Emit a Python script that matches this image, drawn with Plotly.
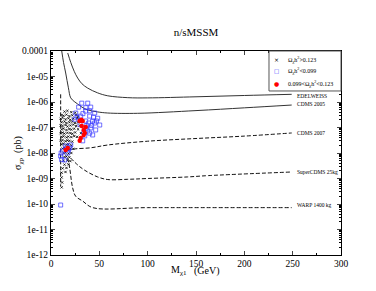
import math
import plotly.graph_objects as go

# ---------------- data ----------------
title_text = "n/sMSSM"
ytick_vals = [1e-12, 1e-11, 1e-10, 1e-9, 1e-8, 1e-7, 1e-6, 1e-5, 1e-4]
ytick_text = ["1e-12", "1e-11", "1e-10", "1e-09", "1e-08", "1e-07", "1e-06", "1e-05", "0.0001"]
xtick_vals = [0, 50, 100, 150, 200, 250, 300]

# exclusion / sensitivity curves (mass GeV, sigma pb)
edelweiss_m = [17.3, 20.5, 24.0, 27.6, 32.0, 38.0, 48.0, 58.7, 79.4, 100.0, 150.0, 200.0, 249.0]
edelweiss_s = [8.3e-5, 3.5e-5, 1.6e-5, 8.7e-6, 5.2e-6, 3.5e-6, 2.3e-6, 1.75e-6, 1.48e-6, 1.45e-6, 1.6e-6, 1.8e-6, 2.0e-6]

cdms05_m = [11.1, 13.0, 15.2, 18.0, 20.4, 24.0, 27.6, 32.0, 38.0, 48.0, 58.7, 89.7, 150.0, 200.0, 249.0]
cdms05_s = [1e-4, 3.5e-5, 1.37e-5, 3.6e-6, 1.45e-6, 1.05e-6, 8.3e-7, 6.3e-7, 4.9e-7, 4.1e-7, 3.7e-7, 3.6e-7, 4.6e-7, 5.9e-7, 7.6e-7]

cdms07_m = [17.3, 19.3, 25.0, 41.1, 58.7, 100.0, 150.0, 200.0, 249.0]
cdms07_s = [1.3e-8, 1.32e-8, 1.45e-8, 1.6e-8, 2.06e-8, 2.9e-8, 3.7e-8, 4.6e-8, 6.1e-8]

scdms_m = [20.4, 27.6, 34.9, 48.3, 58.7, 79.4, 100.0, 141.0, 163.0, 249.0]
scdms_s = [6.3e-9, 3.4e-9, 2.1e-9, 1.15e-9, 9.1e-10, 9.3e-10, 1.0e-9, 1.15e-9, 1.3e-9, 1.8e-9]

warp_m = [17.3, 19.3, 22.4, 25.6, 32.8, 43.1, 100.0, 249.0]
warp_s = [6.3e-9, 2.6e-9, 4.3e-10, 2.0e-10, 1.3e-10, 7.2e-11, 7.2e-11, 7.2e-11]

vline_m = [10.0, 10.0]
vline_s = [2.0e-6, 5.0e-10]

curve_labels = ["EDELWEISS", "CDMS 2005", "CDMS 2007", "SuperCDMS 25kg", "WARP 1400 kg"]
curve_label_s = [1.75e-6, 8.5e-7, 6.1e-8, 1.8e-9, 9.0e-11]

# scan points
black_m = [14, 17, 21, 25,
           11, 13, 16, 19, 22, 26, 28,
           10, 12, 15, 18, 20, 23, 27, 29,
           11, 14, 16, 19, 22, 25, 28,
           10, 12, 15, 17, 20, 23, 26, 30,
           11, 13, 16, 19, 21, 24, 28,
           10, 12, 14, 17, 20, 22, 25, 31,
           11, 13, 16, 18, 21, 24, 27,
           10, 12, 15, 17, 19, 22,
           11, 13, 16, 18, 21,
           12, 14, 17, 20, 23,
           13, 15, 18, 21,
           14, 16, 19,
           13, 17, 20,
           14, 18,
           12, 16,
           11, 15,
           11, 11.5, 11]
black_s = [4.2e-7, 4.5e-7, 4.0e-7, 3.8e-7,
           3.1e-7, 2.9e-7, 3.2e-7, 2.8e-7, 3.0e-7, 3.1e-7, 2.7e-7,
           2.2e-7, 2.4e-7, 2.1e-7, 2.3e-7, 2.0e-7, 2.2e-7, 2.4e-7, 2.1e-7,
           1.6e-7, 1.7e-7, 1.5e-7, 1.6e-7, 1.7e-7, 1.5e-7, 1.6e-7,
           1.2e-7, 1.15e-7, 1.25e-7, 1.1e-7, 1.2e-7, 1.3e-7, 1.15e-7, 1.2e-7,
           8.5e-8, 9.0e-8, 8.0e-8, 8.7e-8, 8.3e-8, 9.0e-8, 8.5e-8,
           6.0e-8, 6.3e-8, 5.8e-8, 6.2e-8, 6.0e-8, 5.7e-8, 6.4e-8, 6.0e-8,
           4.3e-8, 4.5e-8, 4.1e-8, 4.4e-8, 4.2e-8, 4.6e-8, 4.3e-8,
           3.0e-8, 3.2e-8, 2.9e-8, 3.1e-8, 3.0e-8, 2.8e-8,
           2.2e-8, 2.3e-8, 2.1e-8, 2.2e-8, 2.0e-8,
           1.5e-8, 1.6e-8, 1.4e-8, 1.5e-8, 1.45e-8,
           1.0e-8, 1.05e-8, 9.5e-9, 1.0e-8,
           7.0e-9, 7.3e-9, 6.8e-9,
           5.0e-9, 5.2e-9, 4.8e-9,
           3.5e-9, 3.6e-9,
           2.5e-9, 2.6e-9,
           1.7e-9, 1.8e-9,
           1.1e-9, 7.0e-10, 4.5e-10]

blue_m = [31.8, 38.0, 28.6, 35.9, 41.1, 45.2, 48.3, 43.1, 40.0, 50.4, 46.2, 43.1,
          38.0, 34.9, 32.8, 41.1, 45.2, 35.9, 30.7, 25.6, 24.5, 20.4, 19.3, 15.2,
          12.1, 10.0, 14.2, 17.3, 10.0, 37.0, 39.0, 42.0, 44.0, 47.0, 33.0, 36.0,
          40.0, 30.0, 27.0, 36.0, 34.0, 40.0, 10.5, 11.0, 18.0, 16.0]
blue_s = [9.0e-7, 9.0e-7, 6.3e-7, 4.4e-7, 6.3e-7, 3.7e-7, 2.3e-7, 1.8e-7, 2.8e-7, 1.25e-7, 8.0e-8, 5.1e-8,
          7.3e-8, 4.7e-8, 3.0e-8, 9.6e-8, 1.5e-7, 1.8e-7, 2.8e-7, 3.7e-7, 2.1e-7, 2.06e-8, 1.58e-8, 1.87e-8,
          1.2e-8, 7.6e-9, 5.3e-9, 1.0e-8, 9.1e-11, 1.2e-7, 1.5e-7, 1.2e-7, 2.5e-7, 1.8e-7, 3.5e-7, 6.0e-7,
          4.5e-7, 1.3e-7, 2.5e-7, 9.0e-8, 6.5e-8, 6.0e-8, 1.0e-8, 5.5e-9, 1.3e-8, 1.5e-8]

red_m = [29.7, 31.5, 32.8, 31.8, 33.8, 34.9, 33.8, 30.7, 29.7, 35.9, 17.3, 15.2]
red_s = [1.8e-7, 2.0e-7, 1.8e-7, 1.15e-7, 8.0e-8, 6.1e-8, 5.1e-8, 3.9e-8, 3.0e-8, 1.05e-7, 1.58e-8, 1.3e-8]

legend_names = ["Ω<sub>χ</sub>h<sup>2</sup>>0.123",
                "Ω<sub>χ</sub>h<sup>2</sup><0.099",
                "0.099<Ω<sub>χ</sub>h<sup>2</sup><0.123"]
legend_symbols = ["×", "□", "●"]
legend_colors = ["black", "#3333ff", "#ff0000"]

# ---------------- figure ----------------
SERIF = "Liberation Serif, Times New Roman, serif"
fig = go.Figure()

solid = dict(color="#333333", width=1)
dashed = dict(color="#111111", width=1, dash="4px,2px")
for m, s, ln in [(edelweiss_m, edelweiss_s, solid), (cdms05_m, cdms05_s, solid),
                 (cdms07_m, cdms07_s, dashed), (scdms_m, scdms_s, dashed),
                 (warp_m, warp_s, dashed), (vline_m, vline_s, dashed)]:
    fig.add_trace(go.Scatter(x=m, y=s, mode="lines", line=ln, showlegend=False,
                             line_shape="spline", hoverinfo="skip"))

fig.add_trace(go.Scatter(x=black_m, y=black_s, mode="markers", name=legend_names[0],
                         showlegend=False,
                         marker=dict(symbol="x-thin", size=2.3, color="black",
                                     line=dict(color="black", width=0.8))))
fig.add_trace(go.Scatter(x=blue_m, y=blue_s, mode="markers", name=legend_names[1],
                         showlegend=False,
                         marker=dict(symbol="square-open", size=4, color="#3333ff",
                                     line=dict(width=0.7))))
fig.add_trace(go.Scatter(x=red_m, y=red_s, mode="markers", name=legend_names[2],
                         showlegend=False,
                         marker=dict(symbol="circle", size=4.5, color="#ff0000")))

for lbl, s in zip(curve_labels, curve_label_s):
    fig.add_annotation(x=252, y=math.log10(s), xref="x", yref="y", text=lbl, showarrow=False,
                       xanchor="left", yanchor="middle",
                       font=dict(family=SERIF, size=5.5, color="black"))

# custom compact legend (box + keys + labels)
fig.add_shape(type="rect", xref="paper", yref="paper", x0=0.7517, x1=1.0, y0=0.804, y1=1.0,
              line=dict(color="#555555", width=1), fillcolor="white", layer="above")
leg_y = [0.956, 0.902, 0.843]
leg_sizes = [6, 5.5, 6]
for name, sym, col, yy, fs in zip(legend_names, legend_symbols, legend_colors, leg_y, leg_sizes):
    fig.add_annotation(x=0.776, y=yy, xref="paper", yref="paper", text=sym, showarrow=False,
                       xanchor="center", yanchor="middle",
                       font=dict(family="DejaVu Sans", size=fs, color=col))
    fig.add_annotation(x=0.812, y=yy, xref="paper", yref="paper", text=name, showarrow=False,
                       xanchor="left", yanchor="middle",
                       font=dict(family=SERIF, size=6, color="black"))

# axis titles as annotations
fig.add_annotation(x=-0.114, y=0.5, xref="paper", yref="paper",
                   text="σ<sub>χp</sub>  (pb)", textangle=-90, showarrow=False,
                   xanchor="center", yanchor="middle",
                   font=dict(family=SERIF, size=10, color="black"))
fig.add_annotation(x=0.476, y=-0.078, xref="paper", yref="paper",
                   text="M<sub>χ1</sub>", showarrow=False,
                   xanchor="right", yanchor="middle",
                   font=dict(family=SERIF, size=10, color="black"))
fig.add_annotation(x=0.486, y=-0.078, xref="paper", yref="paper",
                   text="(GeV)", showarrow=False,
                   xanchor="left", yanchor="middle",
                   font=dict(family=SERIF, size=10, color="black"))

fig.update_layout(
    width=376, height=291,
    margin=dict(l=43, r=43, t=43, b=44),
    paper_bgcolor="white", plot_bgcolor="white",
    title=dict(text=title_text, x=0.5, xanchor="center", y=0.917, yanchor="middle",
               font=dict(family=SERIF, size=11, color="black")),
    font=dict(family=SERIF, color="black"),
    showlegend=False,
)
fig.update_xaxes(range=[0, 300], tickvals=xtick_vals, ticks="inside", ticklen=4,
                 showline=True, linecolor="black", linewidth=1, mirror="allticks",
                 showgrid=False, zeroline=False,
                 tickfont=dict(family=SERIF, size=9.5, color="black"),
                 minor=dict(dtick=25, ticks="inside", ticklen=2, tickcolor="black"))
fig.update_yaxes(type="log", range=[-12, -4], tickvals=ytick_vals, ticktext=ytick_text,
                 ticks="inside", ticklen=4, showline=True, linecolor="black", linewidth=1,
                 mirror="allticks", showgrid=False, zeroline=False,
                 tickfont=dict(family=SERIF, size=9.5, color="black"),
                 minor=dict(ticks="inside", ticklen=2, tickcolor="black", dtick="D1"))

fig.write_html("out.html")
